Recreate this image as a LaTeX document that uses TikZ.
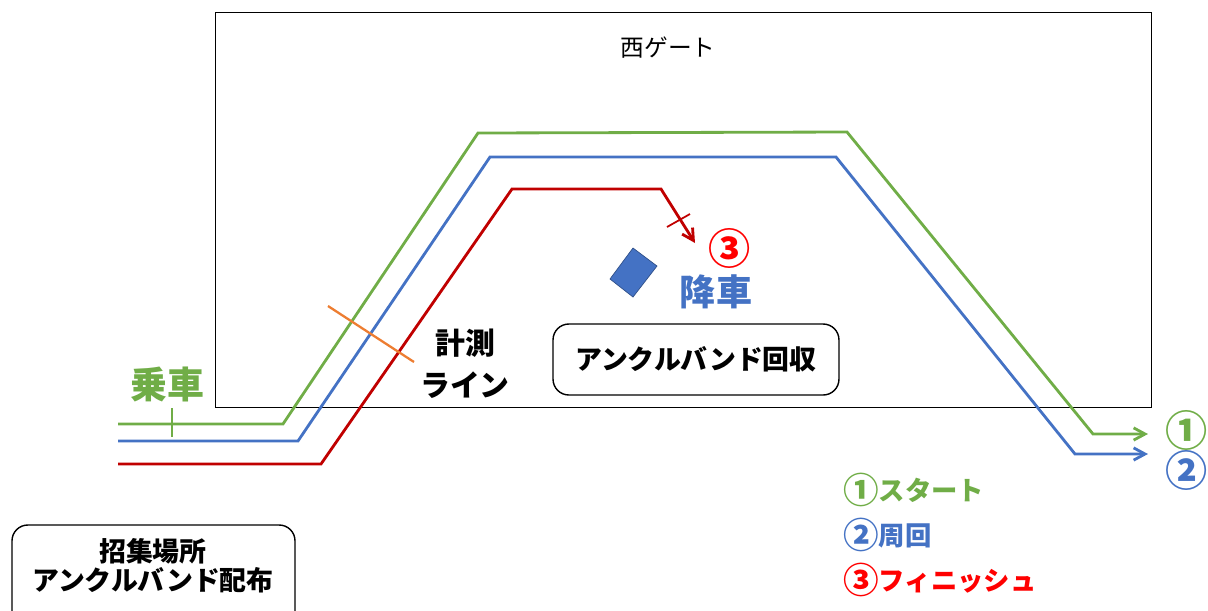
\documentclass[tikz,border=0pt]{standalone}
\usepackage{fontspec}
\setmainfont{Noto Sans CJK JP}
\usetikzlibrary{arrows.meta}
\definecolor{startgreen}{HTML}{70AD47}
\definecolor{lapblue}{HTML}{4472C4}
\definecolor{finishred}{HTML}{C00000}
\definecolor{markred}{HTML}{FF0000}
\definecolor{lineorange}{HTML}{ED7D31}
\newcommand{\cnum}[1]{\raisebox{-0.13em}{\scalebox{1.35}{#1}}}
\tikzset{
  route/.style={line width=1.6pt, line join=miter},
  tip/.style={-{Straight Barb[length=6.5pt,width=7pt]}},
  tag/.style={font=\fontsize{#1}{#1}\selectfont\bfseries},
  roundbox/.style={draw, thick, rounded corners=9pt},
}
\begin{document}
\begin{tikzpicture}[x=0.02cm, y=-0.02cm]
  \useasboundingbox (0,0) rectangle (1208,610);

  % West gate area
  \draw[thin] (215,12) rectangle (1151,407);
  \node (gate) at (668,48) {\fontsize{13.5}{16}\selectfont 西ゲート};

  % Route 1: start
  \coordinate (startend) at (1148,434);
  \draw[route, startgreen, tip] (118,424) -- (283,424) -- (478,133) -- (847,132) -- (1093,434) -- (startend);
  \draw[startgreen, line width=1pt] (172,408) -- (172,437);
  \node[tag=21, startgreen] (board) at (167,384) {乗車};

  % Route 2: lap
  \coordinate (lapend) at (1148,454);
  \draw[route, lapblue, tip] (118,441) -- (298,441) -- (490,157) -- (836,157) -- (1075,454) -- (lapend);

  % Route 3: finish
  \coordinate (finishend) at (695,243);
  \draw[route, finishred, tip] (118,464) -- (321,464) -- (512,189) -- (661,189) -- (finishend);
  \draw[finishred, line width=1pt] (667,227) -- (690,214);

  % Timing line
  \draw[lineorange, line width=1.3pt] (328,306) -- (414,362);
  \node[tag=17, align=center, inner sep=0pt] (timing) at (465,364) {計測\\[7pt]ライン};

  % Drop off point
  \fill[lapblue, draw=lapblue!70!black, thin] (633,248) -- (657,266) -- (633,297) -- (610,279) -- cycle;
  \node[tag=24, markred] (finishmark) at (730,248) {③};
  \node[tag=20.5, lapblue] (alight) at (716,292) {降車};
  \node[roundbox, tag=15.3, minimum width=5.72cm, minimum height=1.42cm] (collect) at (696,359.5) {アンクルバンド回収};

  % Exits
  \node[tag=24, startgreen, inner sep=0pt] (one) at (1187,430) {①};
  \node[tag=24, lapblue, inner sep=0pt] (two) at (1187,470) {②};

  % Legend
  \node[tag=15, startgreen, anchor=west, inner sep=0pt] (legone) at (843,490) {\cnum{①}スタート};
  \node[tag=15, lapblue, anchor=west, inner sep=0pt] (legtwo) at (843,535) {\cnum{②}周回};
  \node[tag=15, markred, anchor=west, inner sep=0pt] (legthree) at (843,580) {\cnum{③}フィニッシュ};

  % Meeting point
  \draw[roundbox] (12,525) rectangle (295,640);
  \node[tag=15.3, align=center] (meet) at (153,566) {招集場所\\[1pt]アンクルバンド配布};
\end{tikzpicture}
\end{document}
